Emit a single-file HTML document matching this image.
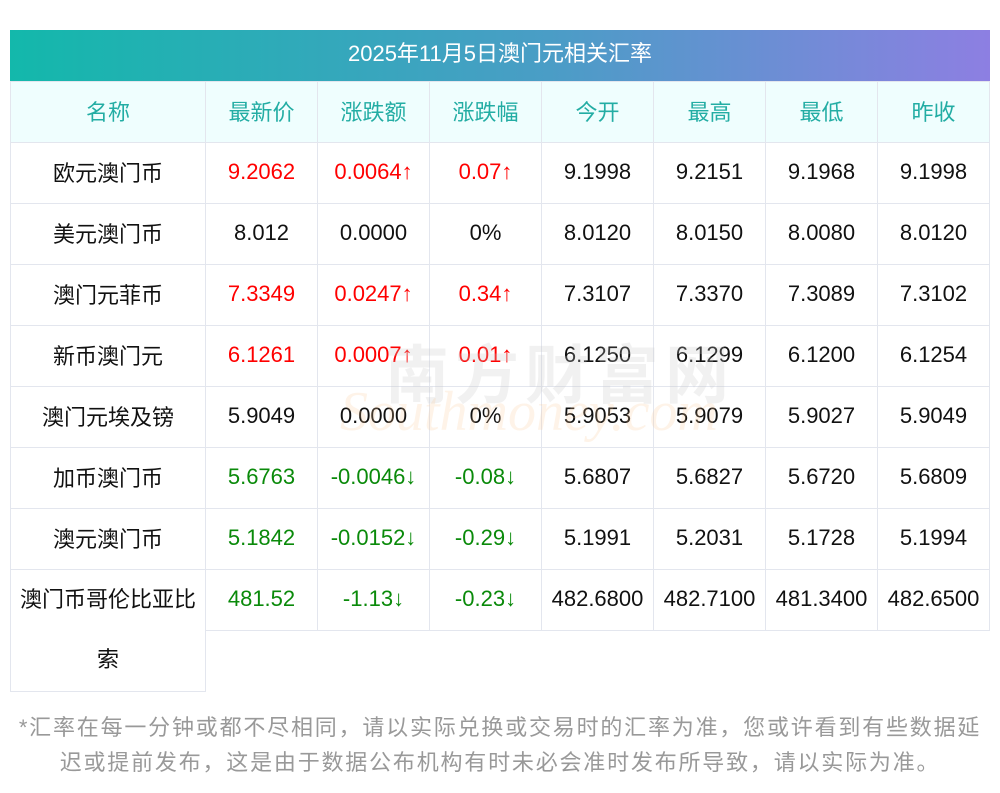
<!DOCTYPE html><html><head><meta charset="utf-8"><style>
body{margin:0;width:1000px;height:793px;background:#fff;font-family:"Liberation Sans","Noto Sans CJK SC",sans-serif;position:relative;overflow:hidden}
.t{position:absolute;left:10px;top:30px;width:980px;height:51px;background:linear-gradient(90deg,#13b8ab,#4a9dc6 55%,#8d7fe2);color:#fff;font-size:22px;text-align:center;line-height:47px}
table{position:absolute;left:10px;top:81px;border-collapse:collapse;table-layout:fixed}
td{border:1px solid #e3e6ee;height:57px;padding:0 0 3px 0;text-align:center;font-size:22px;color:#111;white-space:nowrap}
tr.h td{background:#effefe;color:#23ada4}
.r{color:#ff0000}.g{color:#0a8a0a}
.n{position:absolute;left:0px;top:710px;width:1000px;text-align:center;color:#999;font-size:22px;line-height:35px;letter-spacing:1.8px}
.wm{position:absolute;color:rgba(200,200,200,0.25);font-size:64px;left:385px;top:325px;font-weight:bold;letter-spacing:6px}
.wm2{position:absolute;color:rgba(250,200,150,0.22);font-size:56px;left:340px;top:380px;font-style:italic;font-family:"Liberation Serif",serif}
</style></head><body>
<div class="t">2025年11月5日澳门元相关汇率</div>
<table>
<colgroup><col style="width:195px"><col style="width:112px"><col style="width:112px"><col style="width:112px"><col style="width:112px"><col style="width:112px"><col style="width:112px"><col style="width:112px"></colgroup>
<tr class="h"><td>名称</td><td>最新价</td><td>涨跌额</td><td>涨跌幅</td><td>今开</td><td>最高</td><td>最低</td><td>昨收</td></tr>
<tr><td>欧元澳门币</td><td class="r">9.2062</td><td class="r">0.0064↑</td><td class="r">0.07↑</td><td>9.1998</td><td>9.2151</td><td>9.1968</td><td>9.1998</td></tr>
<tr><td>美元澳门币</td><td>8.012</td><td>0.0000</td><td>0%</td><td>8.0120</td><td>8.0150</td><td>8.0080</td><td>8.0120</td></tr>
<tr><td>澳门元菲币</td><td class="r">7.3349</td><td class="r">0.0247↑</td><td class="r">0.34↑</td><td>7.3107</td><td>7.3370</td><td>7.3089</td><td>7.3102</td></tr>
<tr><td>新币澳门元</td><td class="r">6.1261</td><td class="r">0.0007↑</td><td class="r">0.01↑</td><td>6.1250</td><td>6.1299</td><td>6.1200</td><td>6.1254</td></tr>
<tr><td>澳门元埃及镑</td><td>5.9049</td><td>0.0000</td><td>0%</td><td>5.9053</td><td>5.9079</td><td>5.9027</td><td>5.9049</td></tr>
<tr><td>加币澳门币</td><td class="g">5.6763</td><td class="g">-0.0046↓</td><td class="g">-0.08↓</td><td>5.6807</td><td>5.6827</td><td>5.6720</td><td>5.6809</td></tr>
<tr><td>澳元澳门币</td><td class="g">5.1842</td><td class="g">-0.0152↓</td><td class="g">-0.29↓</td><td>5.1991</td><td>5.2031</td><td>5.1728</td><td>5.1994</td></tr>
<tr><td rowspan="2" style="height:120px;line-height:60px;padding:0">澳门币哥伦比亚比<br>索</td><td class="g">481.52</td><td class="g">-1.13↓</td><td class="g">-0.23↓</td><td>482.6800</td><td>482.7100</td><td>481.3400</td><td>482.6500</td></tr>
<tr><td colspan="7" style="border:none;border-top:1px solid #e3e6ee;border-left:1px solid #e3e6ee"></td></tr>
</table>
<div class="wm">南方财富网</div>
<div class="wm2">Southmoney.com</div>
<div class="n">*汇率在每一分钟或都不尽相同，请以实际兑换或交易时的汇率为准，您或许看到有些数据延<br>迟或提前发布，这是由于数据公布机构有时未必会准时发布所导致，请以实际为准。</div>
</body></html>
